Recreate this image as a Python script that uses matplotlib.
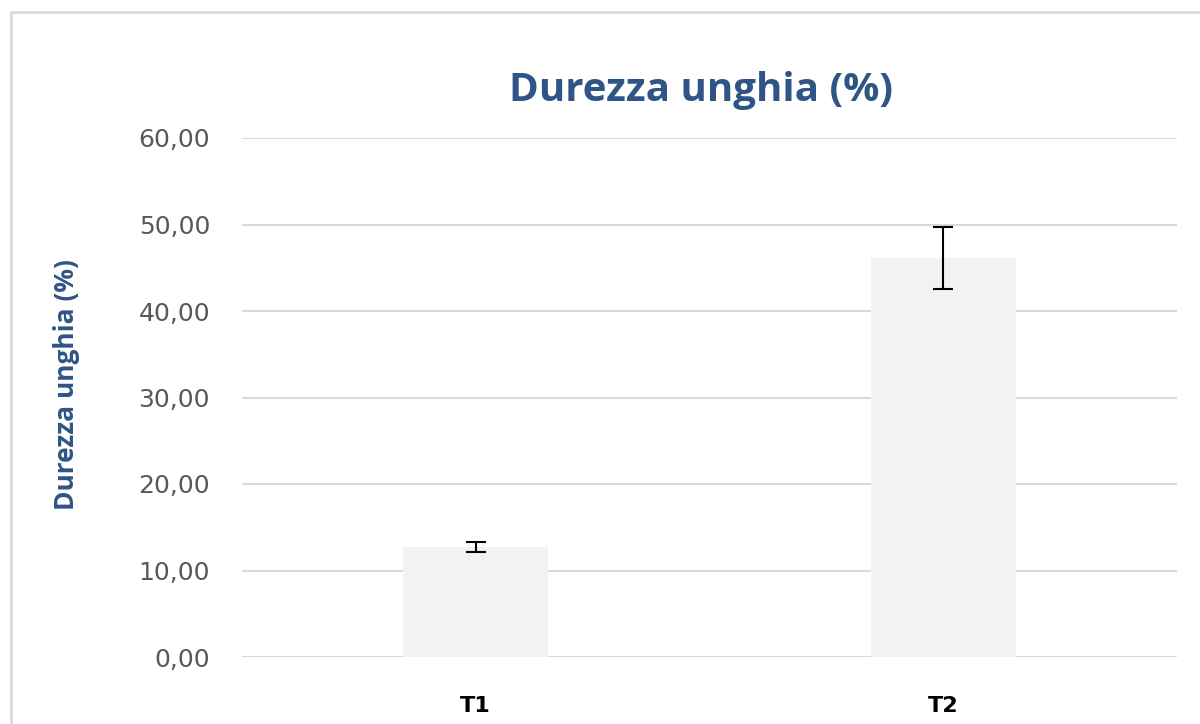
import matplotlib
matplotlib.use("Agg")
import matplotlib.pyplot as plt
from matplotlib.patches import Rectangle
from matplotlib.ticker import FuncFormatter

categories = ["T1", "T2"]
values = [12.7, 46.1]
errors = [0.55, 3.6]
title = "Durezza unghia (%)"
ylabel = "Durezza unghia (%)"

plt.rcParams['font.family'] = ['DejaVu Sans']

fig = plt.figure(figsize=(12, 7.24), dpi=100)
ax = fig.add_axes([242/1200, 1-657/724, (1177-242)/1200, (657-138)/724])

fig.patches.append(Rectangle((11/1200, -0.2), 1.2, 1.2 - 12/724 + 0.0, transform=fig.transFigure,
                             fill=False, edgecolor='#D9D9D9', linewidth=2, zorder=0))

x = list(range(len(categories)))
ax.bar(x, values, width=0.31, color='#F2F2F2', zorder=2)
ax.errorbar(x, values, yerr=errors, fmt='none', ecolor='black', elinewidth=1.5,
            capsize=7.5, capthick=1.5, zorder=3)

ax.set_xlim(-0.5, 1.5)
ax.set_ylim(0, 60)
ax.set_yticks(range(0, 61, 10))
ax.yaxis.set_major_formatter(FuncFormatter(lambda v, p: f"{v:.2f}".replace('.', ',')))
ax.set_xticks(x)
ax.set_xticklabels(categories, fontsize=16, fontweight='bold', color='black')
ax.tick_params(axis='y', length=0, pad=23, labelsize=18, labelcolor='#595959')
ax.tick_params(axis='x', length=0, pad=28)
ax.grid(axis='y', color='#D9D9D9', linewidth=1.5, zorder=0)
ax.set_axisbelow(True)
for s in ax.spines.values():
    s.set_visible(False)

ax.set_ylabel(ylabel, fontsize=19, fontweight='bold', color='#2F5486',
              family='Open Sans')
ax.yaxis.set_label_coords(-(242-80)/935, (657-385)/519)
fig.text(701/1200, 1-91/724, title, fontsize=29, fontweight='bold', color='#2F5486',
         ha='center', va='center', family='Open Sans')

fig.savefig("out.png", dpi=100)
